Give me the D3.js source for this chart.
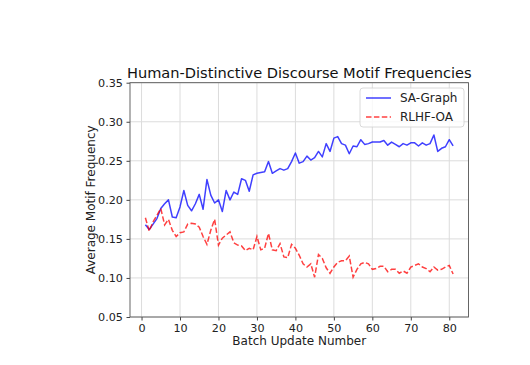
<!DOCTYPE html>
<html><head><meta charset="utf-8">
<script src="https://cdn.jsdelivr.net/npm/d3@7"></script>
<style>body{margin:0;background:#fff}svg{display:block;font-family:"DejaVu Sans",sans-serif}</style>
</head><body><svg id="c" width="530" height="365"></svg>
<script>
const batches = d3.range(1, 82);
const saGraph = [0.168,0.162,0.169,0.176,0.189,0.195,0.200,0.178,0.177,0.191,
0.212,0.193,0.186,0.195,0.207,0.188,0.226,0.206,0.196,0.200,
0.185,0.212,0.200,0.210,0.207,0.227,0.225,0.211,0.232,0.234,
0.235,0.236,0.249,0.234,0.237,0.240,0.238,0.240,0.249,0.260,
0.247,0.249,0.256,0.251,0.254,0.262,0.255,0.272,0.262,0.279,
0.281,0.272,0.270,0.259,0.269,0.268,0.277,0.271,0.272,0.274,
0.274,0.274,0.276,0.270,0.274,0.271,0.268,0.272,0.270,0.273,
0.273,0.269,0.273,0.270,0.272,0.283,0.262,0.266,0.268,0.277,0.269];
const rlhfOA = [0.177,0.160,0.172,0.180,0.189,0.168,0.175,0.161,0.153,0.158,
0.159,0.169,0.170,0.169,0.165,0.153,0.143,0.161,0.175,0.142,
0.151,0.155,0.159,0.145,0.142,0.141,0.135,0.138,0.136,0.153,
0.136,0.138,0.157,0.136,0.135,0.144,0.127,0.126,0.143,0.138,
0.129,0.118,0.114,0.118,0.101,0.130,0.125,0.113,0.106,0.114,
0.120,0.122,0.122,0.128,0.101,0.111,0.118,0.120,0.118,0.111,
0.112,0.115,0.115,0.108,0.111,0.111,0.106,0.109,0.106,0.114,
0.116,0.118,0.114,0.112,0.108,0.114,0.110,0.111,0.114,0.116,0.105];
const xTicks = [0,10,20,30,40,50,60,70,80];
const yTicks = [0.05,0.10,0.15,0.20,0.25,0.30,0.35];
const seriesNames = ["SA-Graph","RLHF-OA"];
const title = "Human-Distinctive Discourse Motif Frequencies";
const xLabel = "Batch Update Number";
const yLabel = "Average Motif Frequency";

const L=130, R=468.5, T=82.7, B=317;
const svg = d3.select("#c");
const x = d3.scaleLinear().domain([-3,85]).range([L,R]);
const y = d3.scaleLinear().domain([0.05,0.35]).range([B,T]);

// grid
const g = svg.append("g");
g.selectAll(".gx").data(xTicks).enter().append("line")
 .attr("x1",d=>x(d)).attr("x2",d=>x(d)).attr("y1",T).attr("y2",B)
 .attr("stroke","#dcdcdc").attr("stroke-width",1);
g.selectAll(".gy").data(yTicks).enter().append("line")
 .attr("x1",L).attr("x2",R).attr("y1",d=>y(d)).attr("y2",d=>y(d))
 .attr("stroke","#dcdcdc").attr("stroke-width",1);

// axes
const xa = svg.append("g").attr("transform",`translate(0,${B})`)
 .call(d3.axisBottom(x).tickValues(xTicks).tickSize(3.5).tickPadding(3.5).tickFormat(d3.format("d")));
const ya = svg.append("g").attr("transform",`translate(${L},0)`)
 .call(d3.axisLeft(y).tickValues(yTicks).tickSize(3.5).tickPadding(3.5).tickFormat(d3.format(".2f")));
[xa,ya].forEach(a=>{
  a.select(".domain").remove();
  a.selectAll("line").attr("stroke","#444");
  a.selectAll("text").attr("fill","#222").style("font-size","11.2px").style("font-family","DejaVu Sans");
});
// frame
svg.append("rect").attr("x",L).attr("y",T).attr("width",R-L).attr("height",B-T)
 .attr("fill","none").attr("stroke","#555").attr("stroke-width",0.9);

// lines
const line = d3.line().x((d,i)=>x(batches[i])).y(d=>y(d));
svg.append("path").datum(saGraph).attr("d",line).attr("fill","none")
 .attr("stroke","#0000ff").attr("stroke-opacity",0.75).attr("stroke-width",1.5).attr("stroke-linejoin","round");
svg.append("path").datum(rlhfOA).attr("d",line).attr("fill","none")
 .attr("stroke","#ff0000").attr("stroke-opacity",0.75).attr("stroke-width",1.5)
 .attr("stroke-dasharray","5.5,2.4");

// title & labels
svg.append("text").attr("x",(L+R)/2).attr("y",78).attr("text-anchor","middle")
 .style("font-size","14.6px").attr("fill","#111").text(title);
svg.append("text").attr("x",(L+R)/2).attr("y",345).attr("text-anchor","middle")
 .style("font-size","12px").attr("fill","#222").text(xLabel);
svg.append("text").attr("transform",`translate(94.5,${(T+B)/2}) rotate(-90)`).attr("text-anchor","middle")
 .style("font-size","12px").attr("fill","#222").text(yLabel);

// legend
const lg = svg.append("g");
lg.append("rect").attr("x",360).attr("y",88).attr("width",104).attr("height",39).attr("rx",3)
 .attr("fill","#fff").attr("fill-opacity",0.8).attr("stroke","#d0d0d0").attr("stroke-width",0.8);
const colors=["#0000ff","#ff0000"], dashes=[null,"5.5,2.4"];
seriesNames.forEach((n,i)=>{
  const yy = 98 + i*19;
  lg.append("line").attr("x1",366).attr("x2",391).attr("y1",yy).attr("y2",yy)
   .attr("stroke",colors[i]).attr("stroke-opacity",0.75).attr("stroke-width",1.5)
   .attr("stroke-dasharray",dashes[i]);
  lg.append("text").attr("x",400).attr("y",yy+4.3).style("font-size","12px").attr("fill","#222").text(n);
});
</script></body></html>
